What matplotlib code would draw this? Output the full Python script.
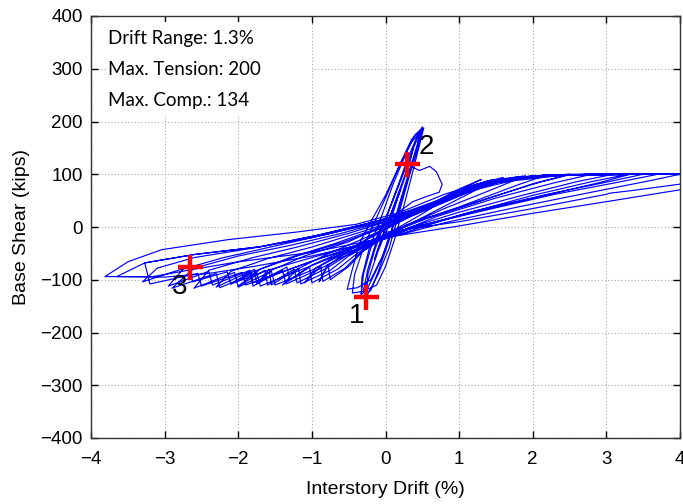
import matplotlib
matplotlib.use("Agg")
import matplotlib.pyplot as plt
from matplotlib.patches import Rectangle

# Response history as (interstory drift %, base shear kips) vertices, one list per stage.
# Early, nearly elastic cycles
elastic_cycles = [
    (0, 0), (0.1, 30), (0.2, 70), (0.12, 40), (0, 0), (-0.1, -40), (-0.15, -62), (-0.08, -35),
    (0.02, 5), (0.15, 55), (0.3, 112), (0.38, 150), (0.32, 118), (0.18, 60), (0.05, 5),
    (-0.1, -45), (-0.22, -95), (-0.3, -120),
    (-0.24, -80), (-0.12, -25), (0.0, 15), (0.15, 70), (0.3, 130), (0.45, 178), (0.5, 190),
    (0.44, 160), (0.32, 105), (0.18, 40), (0.05, -25), (-0.1, -85), (-0.2, -120), (-0.33, -133),
    (-0.32, -95), (-0.22, -40), (-0.08, 10), (0.1, 80), (0.28, 140), (0.4, 175), (0.52, 188),
    (0.47, 160), (0.38, 110), (0.25, 40), (0.12, -25), (0.0, -75), (-0.12, -110), (-0.3, -122),
    (-0.45, -125),
    (-0.42, -90), (-0.3, -40), (-0.18, 0), (0.0, 55), (0.2, 120), (0.35, 160), (0.48, 182),
    (0.46, 158), (0.33, 100), (0.2, 35), (0.05, -40), (-0.1, -90), (-0.26, -132),
    (-0.24, -90), (-0.15, -45), (-0.02, 5), (0.12, 60), (0.29, 119), (0.44, 170), (0.5, 186),
    (0.42, 145), (0.28, 80), (0.12, 10), (-0.04, -55), (-0.2, -100), (-0.38, -115), (-0.52, -118),
    (-0.45, -80), (-0.35, -30), (-0.2, 10), (0.0, 60), (0.2, 120), (0.35, 165), (0.47, 184),
    (0.43, 150), (0.3, 90), (0.15, 20), (-0.05, -60), (-0.25, -118), (-0.33, -128),
    (-0.3, -90), (-0.2, -40), (-0.05, 0), (0.1, 50), (0.29, 119),
]
# Excursion past the tension peak
excursion = [
    (0.29, 119), (0.46, 107), (0.6, 115), (0.69, 105), (0.77, 81), (0.73, 66), (0.56, 58),
    (0.37, 48), (0.1, 20), (0.0, 5),
]
# Large-drift cycles, with slip steps on the compression side
cycle_1 = [(0.0, 5), (0.4, 28), (1.0, 72), (1.3, 90),
           (1.0, 70), (0.5, 25), (0.0, -15), (-0.3, -45), (-0.5, -75), (-0.75, -100),
           (-0.78, -72), (-0.9, -104)]
cycle_2 = [(-0.8, -75), (-0.5, -45), (-0.2, -18), (0.2, 12), (0.7, 45), (1.2, 80), (1.6, 94),
           (1.2, 68), (0.6, 25), (0.0, -18), (-0.35, -50), (-0.55, -78), (-0.85, -103),
           (-0.88, -74), (-1.1, -106)]
cycle_3 = [(-0.95, -78), (-0.6, -50), (-0.2, -20), (0.3, 18), (0.9, 62), (1.4, 88), (1.9, 97),
           (1.5, 74), (0.8, 35), (0.0, -15), (-0.4, -52), (-0.65, -80), (-1.0, -106),
           (-1.03, -76), (-1.4, -110)]
cycle_4 = [(-1.2, -80), (-0.8, -52), (-0.3, -22), (0.2, 10), (0.8, 52), (1.4, 86), (2.2, 99),
           (1.8, 80), (1.0, 38), (0.3, 5), (0.0, -16), (-0.5, -55), (-0.75, -82),
           (-1.15, -108), (-1.18, -78), (-1.55, -110), (-1.58, -80), (-1.75, -108)]
cycle_5 = [(-1.55, -82), (-1.1, -55), (-0.5, -28), (0.0, 5), (0.6, 40), (1.2, 75), (1.8, 95),
           (2.5, 100),
           (2.0, 82), (1.2, 45), (0.4, 10), (0.0, -18), (-0.5, -52), (-0.8, -78), (-1.2, -106),
           (-1.24, -80), (-1.6, -110), (-1.64, -82), (-2.0, -112)]
cycle_5b = [(-1.7, -80), (-1.2, -55), (-0.6, -30), (0.0, 0), (0.6, 35), (1.2, 70), (1.9, 94),
            (2.5, 99),
            (2.1, 85), (1.4, 55), (0.6, 18), (0.0, -14), (-0.6, -48), (-1.0, -72), (-1.3, -100),
            (-1.34, -76), (-1.75, -106), (-1.78, -80), (-2.1, -108)]
cycle_6 = [(-1.8, -85), (-1.3, -58), (-0.7, -32), (0.0, 3), (0.7, 42), (1.3, 78), (2.0, 97),
           (2.8, 100),
           (2.3, 84), (1.5, 55), (0.7, 20), (0.0, -20), (-0.6, -58), (-0.9, -80), (-1.35, -108),
           (-1.4, -82), (-1.8, -112), (-1.84, -84), (-2.3, -114)]
cycle_7 = [(-2.1, -84), (-1.6, -60), (-1.0, -38), (-0.3, -8), (0.4, 25), (1.0, 60), (1.6, 88),
           (2.4, 99), (3.1, 100),
           (2.6, 86), (1.8, 58), (1.0, 28), (0.3, -2), (0.0, -20), (-0.7, -60), (-1.0, -82),
           (-1.5, -110), (-1.55, -84), (-2.0, -114), (-2.05, -86), (-2.6, -116)]
cycle_8 = [(-2.4, -82), (-1.8, -58), (-1.2, -38), (-0.5, -12), (0.2, 18), (0.9, 58), (1.5, 86),
           (2.3, 99), (3.3, 100),
           (2.8, 86), (2.0, 60), (1.0, 22), (0.0, -22), (-0.8, -62), (-1.2, -84), (-1.7, -112),
           (-1.75, -86), (-2.25, -115), (-2.3, -88), (-2.9, -116)]
cycle_8b = [(-2.6, -78), (-2.0, -55), (-1.3, -35), (-0.6, -12), (0.1, 15), (0.8, 52), (1.5, 84),
            (2.4, 98), (3.3, 99),
            (2.9, 84), (2.1, 58), (1.2, 28), (0.3, -3), (0.0, -18), (-0.8, -55), (-1.3, -80),
            (-1.8, -106), (-1.84, -82), (-2.35, -110), (-2.4, -84), (-2.95, -112)]
cycle_9 = [(-2.75, -80), (-2.2, -58), (-1.5, -36), (-0.8, -14), (0.0, 15), (0.7, 48), (1.3, 80),
           (2.0, 97), (3.5, 100),
           (3.0, 85), (2.2, 62), (1.2, 30), (0.3, -5), (0.0, -22), (-0.9, -60), (-1.4, -85),
           (-1.9, -110), (-1.95, -86), (-2.5, -112), (-2.55, -88), (-3.2, -108)]
cycle_10 = [(-3.27, -68), (-2.59, -52), (-1.68, -37), (-1.0, -20), (-0.3, 2), (0.4, 30),
            (1.0, 66), (1.6, 90), (2.5, 100), (3.7, 100),
            (3.2, 86), (2.3, 62), (1.3, 30), (0.4, 0), (0.0, -20), (-1.0, -58), (-1.6, -82),
            (-2.1, -108), (-2.15, -85), (-2.62, -104), (-2.66, -75), (-3.3, -104)]
cycle_11 = [(-3.1, -78), (-2.6, -58), (-1.8, -40), (-1.0, -18), (-0.2, 8), (0.6, 42), (1.2, 76),
            (1.8, 95), (2.8, 100), (4.0, 100),
            (3.6, 88), (2.8, 66), (1.8, 38), (0.8, 8), (0.0, -22), (-1.0, -55), (-1.8, -75),
            (-2.4, -88), (-3.0, -95), (-3.65, -94)]
cycle_12 = [(-3.27, -68), (-2.59, -52), (-1.68, -37), (-0.9, -15), (0.0, 15), (0.8, 55),
            (1.4, 85), (2.2, 99), (3.2, 100), (4.2, 100),
            (4.2, 75), (3.0, 48), (2.0, 26), (1.0, 2), (0.0, -20), (-1.0, -48), (-2.0, -66),
            (-2.6, -80), (-3.16, -94), (-3.81, -94)]
cycle_13 = [(-3.5, -66), (-3.04, -43), (-2.14, -24), (-1.23, -10), (-0.4, 5), (0.2, 28),
            (0.8, 62), (1.4, 88), (2.2, 99), (3.2, 100), (4.2, 100),
            (4.2, 85), (3.4, 70), (3.04, 64), (3.0, 62), (2.0, 35), (1.0, 10), (0.0, -10)]

history = [elastic_cycles, excursion, cycle_1, cycle_2, cycle_3, cycle_4, cycle_5, cycle_5b,
           cycle_6, cycle_7, cycle_8, cycle_8b, cycle_9, cycle_10, cycle_11, cycle_12, cycle_13]

# Key points along the response
marker_drift = [-0.26, 0.29, -2.66]
marker_shear = [-132, 119, -75]
marker_labels = ["1", "2", "3"]
label_drift = [-0.39, 0.56, -2.79]
label_shear = [-168, 151, -113]

annotation_lines = ["Drift Range: 1.3%", "Max. Tension: 200", "Max. Comp.: 134"]

x_ticks = [-4, -3, -2, -1, 0, 1, 2, 3, 4]
y_ticks = [-400, -300, -200, -100, 0, 100, 200, 300, 400]

plt.rcParams["font.family"] = ["Liberation Sans", "DejaVu Sans"]

fig = plt.figure(figsize=(6.83, 5.04), dpi=100)
ax = fig.add_axes([91 / 683, 66 / 504, 589 / 683, 422 / 504])

path_drift = [p[0] for seg in history for p in seg]
path_shear = [p[1] for seg in history for p in seg]
ax.plot(path_drift, path_shear, color="#0000ff", lw=0.85, zorder=3)

ax.plot(marker_drift, marker_shear, linestyle="none", marker="+", color="#ff0000",
        markersize=18, markeredgewidth=3.2, zorder=4)
for lx, ly, t in zip(label_drift, label_shear, marker_labels):
    ax.text(lx, ly, t, fontsize=20, ha="center", va="center", color="black", zorder=5)

ax.set_xlim(-4, 4)
ax.set_ylim(-400, 400)
ax.set_xticks(x_ticks)
ax.set_yticks(y_ticks)
ax.set_axisbelow(True)
ax.grid(True, color="#a8a8a8", linestyle=(0, (1, 2)), linewidth=0.8)
ax.tick_params(direction="in", top=True, right=True, length=5, width=1,
               labelsize=13.5, colors="black")
ax.tick_params(axis="x", pad=9)
ax.tick_params(axis="y", pad=6)
for s in ax.spines.values():
    s.set_color("#333333")
    s.set_linewidth(1.0)

ax.set_xlabel("Interstory Drift (%)", fontsize=14, labelpad=10)
ax.set_ylabel("Base Shear (kips)", fontsize=14, labelpad=7)

# White panel behind the summary text
ax.add_patch(Rectangle((0.029, 0.765), 0.346, 0.221, transform=ax.transAxes,
                       facecolor="white", edgecolor="none", zorder=1))
for i, line in enumerate(annotation_lines):
    ax.text(0.029, 0.946 - i * 0.0735, line, transform=ax.transAxes, fontsize=13.5,
            family=["Lato", "DejaVu Sans"], ha="left", va="center", zorder=5)

fig.savefig("out.png", dpi=100)
